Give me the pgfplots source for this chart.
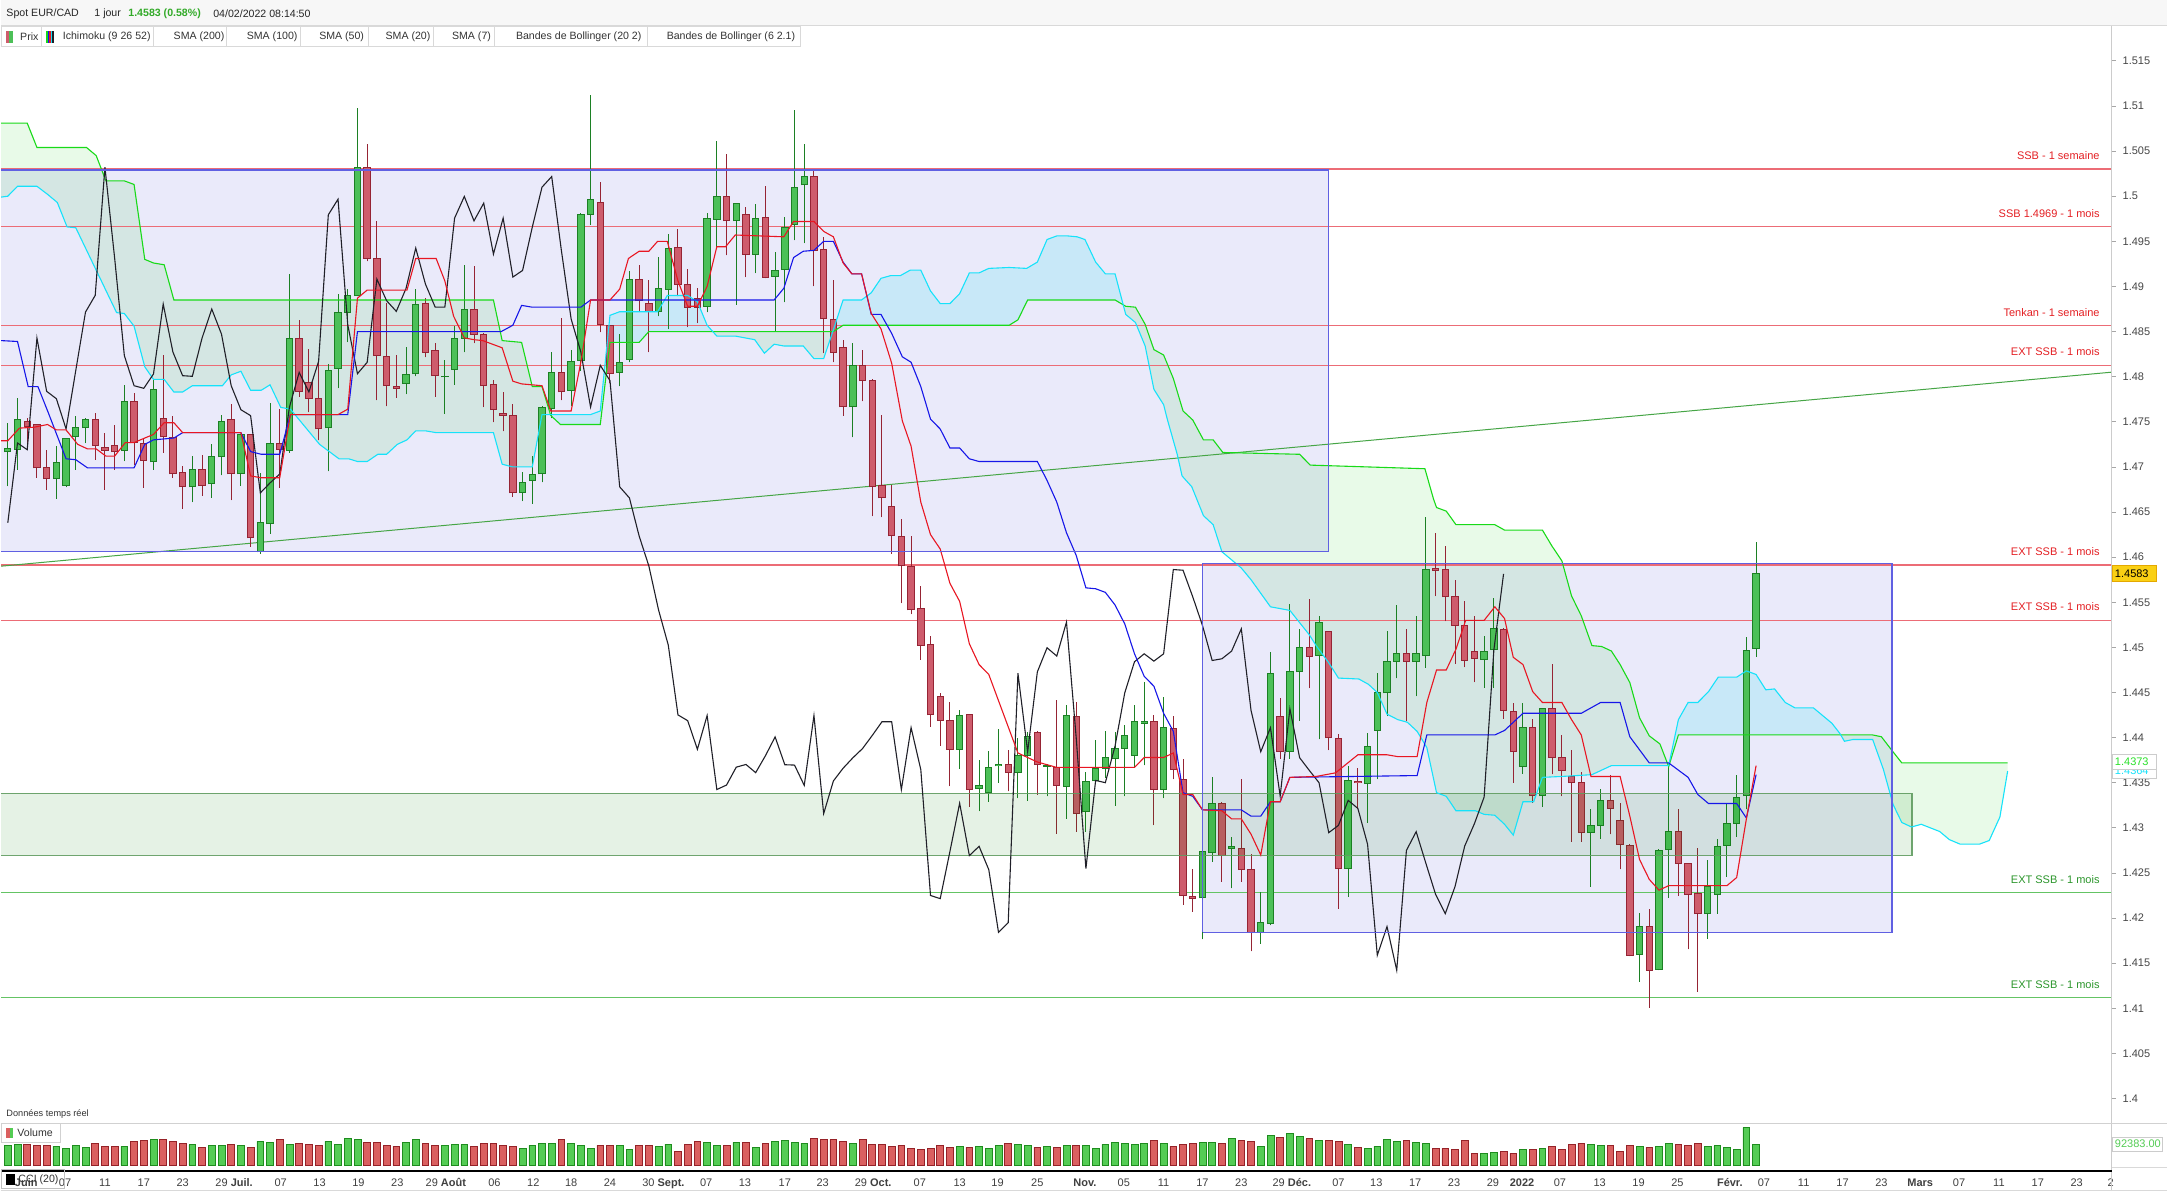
\documentclass[border=0pt]{standalone}
\usepackage{fontspec}
\setmainfont{Liberation Sans}
\usepackage{pgfplots}
\pgfplotsset{compat=1.18}
\usepackage{pgfplotstable}

\definecolor{cG}{RGB}{76,192,88}
\definecolor{cGd}{RGB}{28,128,36}
\definecolor{cR}{RGB}{206,92,108}
\definecolor{cRd}{RGB}{150,36,52}
\definecolor{vG}{RGB}{84,204,84}
\definecolor{vGd}{RGB}{30,140,30}
\definecolor{vR}{RGB}{218,96,96}
\definecolor{vRd}{RGB}{150,34,40}
\definecolor{tenk}{RGB}{232,22,34}
\definecolor{kij}{RGB}{22,22,232}
\definecolor{ssaC}{RGB}{22,226,250}
\definecolor{ssbC}{RGB}{24,218,24}
\definecolor{chik}{RGB}{32,32,40}
\definecolor{boxF}{RGB}{234,234,250}
\definecolor{boxL}{RGB}{96,96,226}
\definecolor{lvR}{RGB}{236,108,118}
\definecolor{lvG}{RGB}{100,196,100}
\definecolor{trG}{RGB}{70,165,70}
\definecolor{txR}{RGB}{228,32,36}
\definecolor{txG}{RGB}{44,150,44}
\definecolor{bandF}{RGB}{0,128,0}
\definecolor{bandL}{RGB}{96,156,96}
\definecolor{clG}{RGB}{0,200,0}
\definecolor{clB}{RGB}{0,224,240}
\definecolor{tickC}{RGB}{70,70,70}
\definecolor{yelF}{RGB}{250,208,20}
\definecolor{yelL}{RGB}{228,168,0}
\definecolor{titG}{RGB}{50,170,40}
\definecolor{lblG}{RGB}{40,225,40}

\newcommand{\tf}{\fontsize{5.5}{6.6}\selectfont}
\newcommand{\lf}{\fontsize{5.3}{6.3}\selectfont}
\newcommand{\sfnt}{\fontsize{4.6}{5.5}\selectfont}

\pgfplotsset{
  candlebar/.style 2 args={only marks, mark=*, mark size=0pt, mark options={draw=none, fill=none}, forget plot,
    error bars/.cd, y dir=plus, y explicit, error mark=none,
    error bar style={line width=#1, color=#2}},
}
\tikzset{lvlabel/.style={anchor=south east, inner sep=0pt, font=\tf, yshift=4.5pt}}

\pgfplotstableread{
i o h l c v
1 1.47166 1.47487 1.46786 1.47210 88.0
2 1.47191 1.47764 1.46970 1.47524 92.4
3 1.47505 1.47542 1.47191 1.47443 90.9
4 1.47469 1.47480 1.46878 1.46989 85.1
5 1.46989 1.47191 1.46749 1.46871 85.1
6 1.46871 1.47229 1.46646 1.47055 82.1
7 1.46797 1.47321 1.46775 1.47321 73.3
8 1.47339 1.47561 1.46970 1.47432 85.1
9 1.47432 1.47542 1.47265 1.47524 77.7
10 1.47531 1.47598 1.47081 1.47236 95.3
11 1.47221 1.47376 1.46749 1.47180 82.1
12 1.47236 1.47469 1.46970 1.47166 82.1
13 1.47180 1.47912 1.47063 1.47727 82.1
14 1.47727 1.47819 1.47026 1.47265 104.1
15 1.47265 1.47321 1.46767 1.47070 108.5
16 1.47055 1.47967 1.46970 1.47864 112.9
17 1.47542 1.48244 1.47155 1.47332 112.9
18 1.47332 1.47568 1.46878 1.46922 102.7
19 1.46944 1.47007 1.46535 1.46779 95.3
20 1.46779 1.47118 1.46609 1.46970 89.5
21 1.46970 1.47136 1.46682 1.46793 77.7
22 1.46812 1.47254 1.46657 1.47111 86.5
23 1.47111 1.47579 1.46907 1.47505 86.5
24 1.47524 1.47701 1.46631 1.46922 90.9
25 1.46922 1.47358 1.46793 1.47358 86.5
26 1.47358 1.47370 1.46114 1.46214 77.7
27 1.46059 1.46933 1.46040 1.46380 104.1
28 1.46369 1.47708 1.46262 1.47265 99.7
29 1.47265 1.47642 1.46767 1.47191 112.9
30 1.47180 1.49141 1.47155 1.48428 92.4
31 1.48428 1.48624 1.47775 1.47838 95.3
32 1.47941 1.48306 1.47605 1.47756 90.9
33 1.47764 1.48159 1.47295 1.47421 85.1
34 1.47432 1.48144 1.46952 1.48070 104.1
35 1.48089 1.48919 1.47874 1.48716 92.4
36 1.48716 1.48971 1.48384 1.48901 117.3
37 1.48897 1.50975 1.48890 1.50322 114.4
38 1.50322 1.50580 1.49277 1.49314 101.2
39 1.49314 1.49727 1.47738 1.48233 99.7
40 1.48225 1.48816 1.47671 1.47900 86.5
41 1.47893 1.48236 1.47764 1.47871 82.1
42 1.47923 1.48329 1.47808 1.48030 99.7
43 1.48030 1.48971 1.48004 1.48805 112.9
44 1.48816 1.48871 1.48214 1.48273 95.3
45 1.48292 1.48373 1.47775 1.48011 88.0
46 1.47996 1.48188 1.47590 1.48004 88.0
47 1.48078 1.48557 1.47912 1.48428 90.9
48 1.48428 1.49240 1.48270 1.48749 90.9
49 1.48742 1.49229 1.48373 1.48472 82.1
50 1.48472 1.48480 1.47664 1.47900 95.3
51 1.47919 1.47967 1.47494 1.47634 95.3
52 1.47598 1.47830 1.47395 1.47568 86.5
53 1.47572 1.47701 1.46668 1.46712 82.1
54 1.46712 1.46941 1.46620 1.46823 73.3
55 1.46849 1.47118 1.46590 1.46922 86.5
56 1.46922 1.47679 1.46830 1.47664 95.3
57 1.47642 1.48273 1.47542 1.48048 96.8
58 1.48048 1.48650 1.47738 1.47830 112.9
59 1.47845 1.48299 1.47671 1.48170 96.8
60 1.48177 1.49812 1.48067 1.49794 86.5
61 1.49801 1.51123 1.49683 1.49967 73.3
62 1.49930 1.50156 1.48491 1.48576 86.5
63 1.48568 1.48576 1.47930 1.48033 86.5
64 1.48048 1.48472 1.47893 1.48159 86.5
65 1.48188 1.49166 1.48159 1.49081 68.9
66 1.49081 1.49240 1.48724 1.48842 86.5
67 1.48816 1.49074 1.48270 1.48724 86.5
68 1.48724 1.49325 1.48668 1.48978 82.1
69 1.48971 1.49580 1.48528 1.49425 92.4
70 1.49432 1.49635 1.48890 1.49026 60.1
71 1.49026 1.49192 1.48550 1.48771 90.9
72 1.48871 1.48982 1.48594 1.48771 104.1
73 1.48779 1.49812 1.48712 1.49757 99.7
74 1.49746 1.50613 1.49425 1.49997 86.5
75 1.49997 1.50469 1.49344 1.49727 86.5
76 1.49727 1.49930 1.48797 1.49923 99.7
77 1.49801 1.49879 1.49104 1.49358 99.7
78 1.49358 1.49912 1.49148 1.49757 77.7
79 1.49764 1.50108 1.49090 1.49104 95.3
80 1.49111 1.49377 1.48502 1.49177 102.7
81 1.49185 1.49775 1.48823 1.49657 108.5
82 1.49683 1.50957 1.49510 1.50100 99.7
83 1.50126 1.50580 1.49480 1.50218 95.3
84 1.50218 1.50303 1.49000 1.49395 117.3
85 1.49414 1.49547 1.48262 1.48639 112.9
86 1.48639 1.49074 1.48159 1.48273 112.9
87 1.48329 1.48402 1.47568 1.47664 104.1
88 1.47664 1.48373 1.47328 1.48126 95.3
89 1.48122 1.48299 1.47727 1.47956 112.9
90 1.47956 1.47974 1.46454 1.46779 90.9
91 1.46797 1.47579 1.46443 1.46657 90.9
92 1.46559 1.46800 1.46037 1.46235 82.1
93 1.46235 1.46418 1.45492 1.45903 86.5
94 1.45892 1.46235 1.45370 1.45415 73.3
95 1.45427 1.45682 1.44863 1.45026 70.4
96 1.45038 1.45129 1.44119 1.44252 73.3
97 1.44455 1.44493 1.43909 1.44188 86.5
98 1.44188 1.44397 1.43463 1.43871 77.7
99 1.43871 1.44310 1.43654 1.44245 82.1
100 1.44252 1.44260 1.43234 1.43425 77.7
101 1.43436 1.43757 1.43185 1.43475 82.1
102 1.43394 1.43856 1.43292 1.43673 73.3
103 1.43688 1.44100 1.43501 1.43703 86.5
104 1.43700 1.43864 1.43406 1.43612 95.3
105 1.43612 1.43997 1.43330 1.43799 89.5
106 1.43799 1.44062 1.43303 1.44008 85.1
107 1.44062 1.44073 1.43368 1.43700 77.7
108 1.43684 1.43711 1.43349 1.43696 82.1
109 1.43673 1.44417 1.42937 1.43471 77.7
110 1.43456 1.44359 1.43101 1.44245 85.1
111 1.44237 1.44390 1.42960 1.43158 88.0
112 1.43177 1.43623 1.42960 1.43520 85.1
113 1.43520 1.43978 1.43482 1.43661 73.3
114 1.43661 1.44073 1.43558 1.43776 90.9
115 1.43768 1.44062 1.43246 1.43879 99.7
116 1.43883 1.44142 1.43349 1.44024 95.3
117 1.43806 1.44367 1.43673 1.44176 90.9
118 1.44161 1.44615 1.43692 1.44176 96.8
119 1.44176 1.44252 1.43032 1.43425 107.1
120 1.43425 1.44455 1.43330 1.44111 95.3
121 1.44100 1.44245 1.43539 1.43646 82.1
122 1.43532 1.43768 1.42148 1.42251 89.5
123 1.42235 1.42548 1.42071 1.42216 95.3
124 1.42224 1.42853 1.41766 1.42739 99.7
125 1.42727 1.43566 1.42624 1.43273 99.7
126 1.43273 1.43284 1.42403 1.42693 95.3
127 1.42769 1.42903 1.42331 1.42796 117.3
128 1.42777 1.43547 1.42403 1.42537 107.1
129 1.42537 1.42708 1.41633 1.41843 104.1
130 1.41843 1.42293 1.41717 1.41949 82.1
131 1.41938 1.44950 1.41919 1.44714 129.1
132 1.44237 1.44435 1.43768 1.43844 121.7
133 1.43844 1.45484 1.43768 1.44729 139.3
134 1.44729 1.45209 1.44188 1.44996 124.7
135 1.44996 1.45534 1.44550 1.44904 115.9
136 1.44911 1.45346 1.43981 1.45280 107.1
137 1.45173 1.45180 1.43862 1.43999 107.1
138 1.43988 1.44043 1.42105 1.42548 102.7
139 1.42548 1.43685 1.42238 1.43526 89.5
140 1.43519 1.43667 1.43205 1.43501 77.7
141 1.43490 1.44054 1.43058 1.43907 73.3
142 1.44080 1.44711 1.43538 1.44497 82.1
143 1.44497 1.45187 1.44239 1.44841 111.5
144 1.44848 1.45475 1.44656 1.44929 104.1
145 1.44929 1.45199 1.44183 1.44848 107.1
146 1.44841 1.45353 1.44460 1.44929 99.7
147 1.44911 1.46446 1.44774 1.45863 95.3
148 1.45870 1.46269 1.45568 1.45855 73.3
149 1.45863 1.46129 1.45291 1.45560 73.3
150 1.45560 1.45752 1.44818 1.45243 68.9
151 1.45243 1.45512 1.44781 1.44855 107.1
152 1.44951 1.45353 1.44615 1.44874 52.8
153 1.44866 1.45125 1.44553 1.44959 52.8
154 1.44977 1.45549 1.44553 1.45206 57.2
155 1.45199 1.45217 1.44209 1.44302 60.1
156 1.44287 1.44387 1.43501 1.43844 51.3
157 1.43678 1.44387 1.43600 1.44110 68.9
158 1.44110 1.44202 1.43279 1.43353 68.9
159 1.43353 1.44320 1.43235 1.44320 73.3
160 1.44320 1.44811 1.43593 1.43778 82.1
161 1.43778 1.44025 1.43353 1.43637 68.9
162 1.43574 1.43859 1.42844 1.43501 89.5
163 1.43501 1.43619 1.42844 1.42947 96.8
164 1.42947 1.43205 1.42349 1.43028 92.4
165 1.43028 1.43427 1.42881 1.43305 88.0
166 1.43305 1.43582 1.42929 1.43216 88.0
167 1.43084 1.43279 1.42541 1.42818 60.1
168 1.42807 1.42818 1.41580 1.41589 85.1
169 1.41600 1.42061 1.41297 1.41906 80.7
170 1.41906 1.42098 1.41009 1.41423 77.7
171 1.41434 1.42770 1.41423 1.42751 82.1
172 1.42762 1.43685 1.42227 1.42958 95.3
173 1.42965 1.43205 1.42246 1.42608 92.4
174 1.42604 1.42610 1.41655 1.42264 85.1
175 1.42272 1.42774 1.41187 1.42050 95.3
176 1.42050 1.42641 1.41773 1.42349 82.1
177 1.42264 1.42881 1.42050 1.42799 85.1
178 1.42807 1.43279 1.42456 1.43047 77.7
179 1.43050 1.43582 1.42903 1.43342 68.9
180 1.43353 1.45114 1.43205 1.44970 165.7
181 1.44984 1.46169 1.44896 1.45815 92.4
}\candles

\pgfplotstableread{
x y
0.31 1.4729
1.0 1.4729
2.2 1.4743
3.7 1.4744
5.1 1.4747
6.0 1.4741
7.0 1.4741
8.2 1.4725
9.2 1.4720
10.1 1.4720
11.1 1.4712
12.0 1.4712
13.1 1.4727
14.0 1.4727
15.1 1.4732
16.0 1.4736
17.1 1.4749
18.1 1.4749
19.0 1.4738
25.0 1.4738
26.0 1.4690
27.1 1.4688
29.0 1.4688
30.1 1.4758
35.0 1.4758
36.0 1.4764
37.0 1.4887
38.0 1.4896
42.1 1.4896
43.0 1.4931
45.1 1.4931
46.0 1.4906
46.9 1.4867
48.0 1.4843
49.0 1.4841
49.9 1.4840
51.9 1.4832
53.0 1.4795
53.9 1.4792
56.0 1.4790
56.9 1.4762
59.0 1.4762
60.0 1.4816
61.0 1.4885
63.0 1.4885
64.0 1.4897
64.9 1.4931
66.0 1.4939
67.0 1.4939
67.9 1.4950
68.9 1.4950
70.0 1.4906
71.0 1.4878
72.0 1.4878
73.0 1.4900
74.0 1.4944
74.9 1.4944
75.9 1.4957
80.9 1.4955
81.9 1.4972
84.0 1.4972
85.0 1.4961
86.0 1.4955
87.0 1.4926
87.9 1.4914
88.9 1.4914
89.9 1.4870
90.9 1.4853
92.0 1.4815
93.1 1.4751
94.0 1.4723
95.0 1.4661
96.0 1.4625
97.0 1.4609
98.0 1.4571
99.0 1.4551
100.0 1.4504
101.0 1.4481
102.0 1.4470
103.0 1.4441
104.0 1.4412
105.0 1.4383
106.0 1.4378
107.0 1.4373
109.0 1.4367
117.0 1.4367
118.0 1.4378
120.0 1.4378
121.0 1.4383
122.0 1.4337
123.0 1.4337
124.0 1.4320
126.0 1.4319
127.0 1.4310
128.0 1.4310
129.0 1.4293
130.0 1.4270
131.0 1.4329
132.0 1.4329
133.0 1.4356
135.7 1.4357
137.7 1.4361
140.0 1.4381
143.0 1.4381
144.1 1.4379
146.1 1.4379
147.1 1.4439
148.1 1.4475
149.1 1.4475
150.1 1.4498
151.1 1.4530
153.0 1.4530
154.1 1.4545
155.1 1.4532
156.0 1.4489
157.0 1.4481
158.0 1.4451
159.0 1.4439
161.0 1.4439
162.0 1.4420
163.0 1.4403
164.0 1.4357
167.0 1.4357
168.0 1.4313
169.0 1.4265
170.0 1.4243
171.0 1.4231
172.0 1.4236
178.0 1.4236
179.0 1.4245
180.0 1.4310
181.0 1.4369
}\tenkan

\pgfplotstableread{
x y
0.31 1.4840
2.0 1.4839
3.1 1.4789
4.1 1.4789
5.1 1.4762
7.0 1.4709
8.0 1.4708
9.2 1.4699
14.0 1.4699
15.1 1.4725
16.0 1.4730
18.1 1.4732
19.0 1.4738
25.0 1.4738
26.0 1.4717
27.1 1.4714
29.0 1.4714
30.1 1.4758
36.0 1.4758
37.0 1.4850
51.8 1.4850
53.0 1.4857
53.9 1.4879
55.0 1.4877
60.0 1.4877
61.0 1.4885
79.9 1.4885
80.9 1.4898
81.9 1.4932
82.9 1.4939
84.0 1.4940
85.0 1.4950
86.0 1.4950
87.0 1.4927
87.9 1.4914
88.9 1.4914
89.9 1.4869
90.9 1.4869
92.0 1.4848
93.1 1.4822
94.0 1.4816
95.0 1.4789
96.0 1.4753
97.0 1.4742
98.0 1.4721
99.0 1.4721
100.0 1.4709
101.0 1.4706
107.0 1.4706
108.0 1.4685
109.0 1.4661
110.0 1.4627
111.0 1.4602
112.0 1.4566
113.0 1.4565
114.0 1.4561
115.0 1.4547
116.0 1.4526
117.0 1.4493
118.0 1.4468
119.0 1.4457
120.0 1.4427
121.0 1.4407
122.0 1.4339
123.0 1.4335
124.0 1.4320
128.0 1.4320
129.0 1.4313
130.0 1.4313
131.0 1.4329
132.0 1.4329
133.0 1.4356
146.1 1.4358
147.1 1.4403
154.1 1.4403
155.1 1.4408
157.0 1.4427
163.0 1.4427
165.0 1.4439
167.0 1.4439
168.0 1.4401
170.0 1.4372
172.0 1.4372
173.0 1.4364
174.0 1.4356
175.0 1.4337
176.1 1.4327
179.0 1.4327
180.0 1.4311
181.0 1.4359
}\kijun

\pgfplotstableread{
x y
0.31 1.5081
3.0 1.5081
4.0 1.5054
9.1 1.5054
10.1 1.5045
11.1 1.5017
13.0 1.5017
14.0 1.5013
15.1 1.4930
16.0 1.4926
17.1 1.4924
18.1 1.4885
51.0 1.4885
51.9 1.4840
53.9 1.4838
55.0 1.4789
56.0 1.4789
56.9 1.4757
57.9 1.4747
62.0 1.4747
63.0 1.4838
66.0 1.4838
67.0 1.4850
86.0 1.4850
87.0 1.4857
104.1 1.4857
105.0 1.4863
106.0 1.4885
115.0 1.4885
116.1 1.4878
117.1 1.4877
118.1 1.4858
119.0 1.4830
120.0 1.4824
121.0 1.4798
122.0 1.4762
123.0 1.4752
124.1 1.4730
125.1 1.4730
126.1 1.4716
134.0 1.4714
135.1 1.4702
146.9 1.4698
147.8 1.4664
148.1 1.4655
149.1 1.4651
150.1 1.4636
154.1 1.4636
155.1 1.4630
159.0 1.4630
160.0 1.4612
161.0 1.4596
162.0 1.4557
163.0 1.4535
164.1 1.4502
165.1 1.4501
166.1 1.4496
167.0 1.4481
168.0 1.4461
169.0 1.4422
170.0 1.4402
171.1 1.4393
172.0 1.4368
173.0 1.4403
193.0 1.4403
193.9 1.4401
194.9 1.4387
196.0 1.4372
206.9 1.4372
}\ssb

\pgfplotstableread{
x y
0.31 1.4999
1.0 1.5000
2.0 1.5011
4.0 1.5011
5.1 1.5002
6.1 1.4993
7.1 1.4966
8.0 1.4965
12.2 1.4871
13.0 1.4870
14.0 1.4856
15.1 1.4811
16.0 1.4797
17.1 1.4797
18.1 1.4783
19.0 1.4783
20.0 1.4790
23.1 1.4790
24.0 1.4802
25.0 1.4806
26.0 1.4785
27.1 1.4785
28.0 1.4791
29.1 1.4766
30.1 1.4764
33.1 1.4725
34.1 1.4717
35.1 1.4709
36.1 1.4709
37.0 1.4706
38.0 1.4706
39.1 1.4714
40.0 1.4714
41.1 1.4725
42.1 1.4730
43.0 1.4740
44.0 1.4740
45.1 1.4738
51.0 1.4738
51.9 1.4703
53.0 1.4700
55.0 1.4700
56.0 1.4758
61.0 1.4758
62.0 1.4762
63.0 1.4868
64.0 1.4872
67.9 1.4872
68.9 1.4890
71.0 1.4890
72.0 1.4883
73.0 1.4857
74.0 1.4845
75.9 1.4845
77.9 1.4841
78.9 1.4826
79.9 1.4836
80.9 1.4834
82.9 1.4834
84.0 1.4820
85.0 1.4820
86.0 1.4852
87.0 1.4885
88.9 1.4885
89.9 1.4893
90.9 1.4909
91.9 1.4912
92.9 1.4912
93.9 1.4918
95.0 1.4918
96.0 1.4895
97.0 1.4881
98.0 1.4881
99.0 1.4892
100.0 1.4915
101.0 1.4915
102.0 1.4920
104.1 1.4921
105.9 1.4920
107.0 1.4927
108.0 1.4952
109.0 1.4956
110.1 1.4956
111.1 1.4955
111.9 1.4952
113.0 1.4927
114.0 1.4914
115.0 1.4914
116.1 1.4869
117.1 1.4860
118.1 1.4834
119.0 1.4786
120.0 1.4769
120.4 1.4752
121.4 1.4714
121.9 1.4690
122.9 1.4678
124.1 1.4646
125.1 1.4636
126.0 1.4606
128.0 1.4588
129.0 1.4575
131.0 1.4545
133.0 1.4541
135.0 1.4514
135.7 1.4502
137.0 1.4483
138.0 1.4466
140.1 1.4465
141.1 1.4459
142.0 1.4450
143.0 1.4426
144.1 1.4420
145.1 1.4417
146.1 1.4407
147.1 1.4389
148.1 1.4339
149.1 1.4335
150.1 1.4319
152.1 1.4319
153.0 1.4315
154.1 1.4314
155.1 1.4304
156.0 1.4292
157.0 1.4329
158.1 1.4329
159.0 1.4356
161.0 1.4357
164.1 1.4359
166.1 1.4369
172.0 1.4369
173.0 1.4420
174.0 1.4439
175.0 1.4439
176.1 1.4451
177.1 1.4467
179.0 1.4467
180.0 1.4474
181.0 1.4470
182.0 1.4453
182.9 1.4454
184.0 1.4439
185.0 1.4433
186.9 1.4433
188.8 1.4416
189.6 1.4405
190.1 1.4396
191.0 1.4398
193.0 1.4398
194.1 1.4365
195.1 1.4326
196.0 1.4306
197.0 1.4301
198.0 1.4304
199.9 1.4296
200.9 1.4287
202.0 1.4282
204.0 1.4282
205.0 1.4286
206.1 1.4312
206.9 1.4363
}\ssa

\begin{document}
\begin{tikzpicture}
\fill[white] (0,0) rectangle (1083.5pt,596pt);

\begin{axis}[
  at={(0pt,34pt)}, anchor=south west, scale only axis,
  width=1056pt, height=539pt,
  xmin=0.31, xmax=217.6, ymin=1.39728, ymax=1.51665,
  axis line style={draw=none},
  xtick=\empty,
  ytick={1.4,1.405,1.41,1.415,1.42,1.425,1.43,1.435,1.44,1.445,1.45,1.455,1.46,1.465,1.47,1.475,1.48,1.485,1.49,1.495,1.5,1.505,1.51,1.515},
  ytick pos=right, yticklabel pos=right,
  scaled y ticks=false,
  tick align=outside, major tick length=2pt,
  y tick style={draw=black!35, line width=0.4pt},
  yticklabel style={font=\tf, text=tickC, /pgf/number format/fixed, /pgf/number format/precision=3},
  /pgf/number format/assume math mode=true,
]
% boxes (background)
\addplot[draw=none, fill=boxF, forget plot] coordinates {(0.31,1.46066) (136.97,1.46066) (136.97,1.50289) (0.31,1.50289)};
\addplot[draw=none, fill=boxF, forget plot] coordinates {(124.02,1.41843) (194.98,1.41843) (194.98,1.4593) (124.02,1.4593)};

% cloud (area between SSA and SSB, green where SSB is on top, blue where SSA is on top)
\addplot[draw=none, fill=clG, fill opacity=0.09, forget plot] coordinates {
(0.31,1.5081) (3.0,1.5081) (4.0,1.5054) (9.1,1.5054) (10.1,1.5045) (11.1,1.5017) (13.0,1.5017) (14.0,1.5013) (15.1,1.4930) (16.0,1.4926) (17.1,1.4924) (18.1,1.4885) (51.0,1.4885) (51.9,1.4840) (53.9,1.4838) (55.0,1.4789) (56.0,1.4789) (56.87,1.4758)
(56.0,1.4758) (55.0,1.4700) (53.0,1.4700) (51.9,1.4703) (51.0,1.4738) (45.1,1.4738) (44.0,1.4740) (43.0,1.4740) (42.1,1.4730) (41.1,1.4725) (40.0,1.4714) (39.1,1.4714) (38.0,1.4706) (37.0,1.4706) (36.1,1.4709) (35.1,1.4709) (34.1,1.4717) (33.1,1.4725) (30.1,1.4764) (29.1,1.4766) (28.0,1.4791) (27.1,1.4785) (26.0,1.4785) (25.0,1.4806) (24.0,1.4802) (23.1,1.4790) (20.0,1.4790) (19.0,1.4783) (18.1,1.4783) (17.1,1.4797) (16.0,1.4797) (15.1,1.4811) (14.0,1.4856) (13.0,1.4870) (12.2,1.4871) (8.0,1.4965) (7.1,1.4966) (6.1,1.4993) (5.1,1.5002) (4.0,1.5011) (2.0,1.5011) (1.0,1.5000) (0.31,1.4999)};
\addplot[draw=none, fill=clB, fill opacity=0.145, forget plot] coordinates {
(56.87,1.4758) (61.0,1.4758) (62.0,1.4762) (63.0,1.4868) (64.0,1.4872) (67.9,1.4872) (68.9,1.4890) (71.0,1.4890) (72.0,1.4883) (73.0,1.4857) (73.58,1.4850)
(67.0,1.4850) (66.0,1.4838) (63.0,1.4838) (62.0,1.4747) (57.9,1.4747)};
\addplot[draw=none, fill=clG, fill opacity=0.09, forget plot] coordinates {
(73.58,1.4850) (85.94,1.4850) (85.0,1.4820) (84.0,1.4820) (82.9,1.4834) (80.9,1.4834) (79.9,1.4836) (78.9,1.4826) (77.9,1.4841) (75.9,1.4845) (74.0,1.4845)};
\addplot[draw=none, fill=clB, fill opacity=0.145, forget plot] coordinates {
(85.94,1.4850) (86.0,1.4852) (87.0,1.4885) (88.9,1.4885) (89.9,1.4893) (90.9,1.4909) (91.9,1.4912) (92.9,1.4912) (93.9,1.4918) (95.0,1.4918) (96.0,1.4895) (97.0,1.4881) (98.0,1.4881) (99.0,1.4892) (100.0,1.4915) (101.0,1.4915) (102.0,1.4920) (104.1,1.4921) (105.9,1.4920) (107.0,1.4927) (108.0,1.4952) (109.0,1.4956) (110.1,1.4956) (111.1,1.4955) (111.9,1.4952) (113.0,1.4927) (114.0,1.4914) (115.0,1.4914) (115.84,1.48797)
(115.0,1.4885) (106.0,1.4885) (105.0,1.4863) (104.1,1.4857) (87.0,1.4857) (86.0,1.4850)};
\addplot[draw=none, fill=clG, fill opacity=0.09, forget plot] coordinates {
(115.84,1.48797) (116.1,1.4878) (117.1,1.4877) (118.1,1.4858) (119.0,1.4830) (120.0,1.4824) (121.0,1.4798) (122.0,1.4762) (123.0,1.4752) (124.1,1.4730) (125.1,1.4730) (126.1,1.4716) (134.0,1.4714) (135.1,1.4702) (146.9,1.4698) (147.8,1.4664) (148.1,1.4655) (149.1,1.4651) (150.1,1.4636) (154.1,1.4636) (155.1,1.4630) (159.0,1.4630) (160.0,1.4612) (161.0,1.4596) (162.0,1.4557) (163.0,1.4535) (164.1,1.4502) (165.1,1.4501) (166.1,1.4496) (167.0,1.4481) (168.0,1.4461) (169.0,1.4422) (170.0,1.4402) (171.1,1.4393) (171.96,1.4369)
(166.1,1.4369) (164.1,1.4359) (161.0,1.4357) (159.0,1.4356) (158.1,1.4329) (157.0,1.4329) (156.0,1.4292) (155.1,1.4304) (154.1,1.4314) (153.0,1.4315) (152.1,1.4319) (150.1,1.4319) (149.1,1.4335) (148.1,1.4339) (147.1,1.4389) (146.1,1.4407) (145.1,1.4417) (144.1,1.4420) (143.0,1.4426) (142.0,1.4450) (141.1,1.4459) (140.1,1.4465) (138.0,1.4466) (137.0,1.4483) (135.7,1.4502) (135.0,1.4514) (133.0,1.4541) (131.0,1.4545) (129.0,1.4575) (128.0,1.4588) (126.0,1.4606) (125.1,1.4636) (124.1,1.4646) (122.9,1.4678) (121.9,1.4690) (121.4,1.4714) (120.4,1.4752) (120.0,1.4769) (119.0,1.4786) (118.1,1.4834) (117.1,1.4860) (116.1,1.4869)};
\addplot[draw=none, fill=clB, fill opacity=0.145, forget plot] coordinates {
(171.96,1.4369) (172.0,1.4369) (173.0,1.4420) (174.0,1.4439) (175.0,1.4439) (176.1,1.4451) (177.1,1.4467) (179.0,1.4467) (180.0,1.4474) (181.0,1.4470) (182.0,1.4453) (182.9,1.4454) (184.0,1.4439) (185.0,1.4433) (186.9,1.4433) (188.8,1.4416) (189.6,1.4405) (189.71,1.4403)
(173.0,1.4403) (172.0,1.4368)};
\addplot[draw=none, fill=clG, fill opacity=0.09, forget plot] coordinates {
(189.71,1.4403) (193.0,1.4403) (193.9,1.4401) (194.9,1.4387) (196.0,1.4372) (206.9,1.4372)
(206.9,1.4363) (206.1,1.4312) (205.0,1.4286) (204.0,1.4282) (202.0,1.4282) (200.9,1.4287) (199.9,1.4296) (198.0,1.4304) (197.0,1.4301) (196.0,1.4306) (195.1,1.4326) (194.1,1.4365) (193.0,1.4398) (191.0,1.4398) (190.1,1.4396)};

% level lines
\addplot[lvR, line width=0.8pt, forget plot] coordinates {(0.31,1.50303) (217.6,1.50303)};
\addplot[lvR, line width=0.8pt, forget plot] coordinates {(0.31,1.49664) (217.6,1.49664)};
\addplot[lvR, line width=0.8pt, forget plot] coordinates {(0.31,1.48565) (217.6,1.48565)};
\addplot[lvR, line width=0.8pt, forget plot] coordinates {(0.31,1.48125) (217.6,1.48125)};
\addplot[lvR, line width=0.8pt, forget plot] coordinates {(0.31,1.4591) (217.6,1.4591)};
\addplot[lvR, line width=0.8pt, forget plot] coordinates {(0.31,1.4530) (217.6,1.4530)};
\addplot[lvG, line width=0.6pt, forget plot] coordinates {(0.31,1.4228) (217.6,1.4228)};
\addplot[lvG, line width=0.6pt, forget plot] coordinates {(0.31,1.4112) (217.6,1.4112)};
\addplot[trG, line width=0.5pt, forget plot] coordinates {(0.31,1.4590) (217.6,1.4805)};

% candles: wicks
\addplot[restrict expr to domain={\thisrow{c}-\thisrow{o}}{0:1}, candlebar={0.5pt}{cGd}]
  table[x=i, y=l, y error expr={\thisrow{h}-\thisrow{l}}] {\candles};
\addplot[restrict expr to domain={\thisrow{c}-\thisrow{o}}{-1:-0.000001}, candlebar={0.5pt}{cRd}]
  table[x=i, y=l, y error expr={\thisrow{h}-\thisrow{l}}] {\candles};
% candles: bodies (border)
\addplot[restrict expr to domain={\thisrow{c}-\thisrow{o}}{0:1}, candlebar={3.7pt}{cGd}]
  table[x=i, y expr={min(\thisrow{o},\thisrow{c})-0.00005}, y error expr={abs(\thisrow{c}-\thisrow{o})+0.0001}] {\candles};
\addplot[restrict expr to domain={\thisrow{c}-\thisrow{o}}{-1:-0.000001}, candlebar={3.7pt}{cRd}]
  table[x=i, y expr={min(\thisrow{o},\thisrow{c})-0.00005}, y error expr={abs(\thisrow{c}-\thisrow{o})+0.0001}] {\candles};
% candles: bodies (fill)
\addplot[restrict expr to domain={\thisrow{c}-\thisrow{o}}{0:1}, candlebar={2.7pt}{cG}]
  table[x=i, y expr={min(\thisrow{o},\thisrow{c})+0.00006}, y error expr={max(abs(\thisrow{c}-\thisrow{o})-0.00012,0)}] {\candles};
\addplot[restrict expr to domain={\thisrow{c}-\thisrow{o}}{-1:-0.000001}, candlebar={2.7pt}{cR}]
  table[x=i, y expr={min(\thisrow{o},\thisrow{c})+0.00006}, y error expr={max(abs(\thisrow{c}-\thisrow{o})-0.00012,0)}] {\candles};

% green band
\addplot[draw=none, fill=bandF, fill opacity=0.1, forget plot] coordinates {(0.31,1.42696) (197.05,1.42696) (197.05,1.43383) (0.31,1.43383)};
\addplot[bandL, opacity=0.9, line width=0.8pt, forget plot] coordinates {(0.31,1.42696) (197.05,1.42696) (197.05,1.43383) (0.31,1.43383)};

% ichimoku lines
\addplot[ssbC, line width=0.55pt, forget plot] table {\ssb};
\addplot[ssaC, line width=0.55pt, forget plot] table {\ssa};
\addplot[chik, line width=0.55pt, forget plot, restrict x to domain=0.5:217] table[x expr=\thisrow{i}-26, y=c] {\candles};
\addplot[kij, line width=0.55pt, forget plot] table {\kijun};
\addplot[tenk, line width=0.55pt, forget plot] table {\tenkan};

% box borders
\addplot[boxL, line width=0.7pt, forget plot] coordinates {(0.31,1.46066) (136.97,1.46066) (136.97,1.50289) (0.31,1.50289)};
\addplot[boxL, line width=0.7pt, forget plot] coordinates {(124.02,1.41843) (194.98,1.41843) (194.98,1.4593) (124.02,1.4593) (124.02,1.41843)};

% level labels
\node[lvlabel, text=txR] at (axis cs:216.4,1.50303) {SSB - 1 semaine};
\node[lvlabel, text=txR] at (axis cs:216.4,1.49664) {SSB 1.4969 - 1 mois};
\node[lvlabel, text=txR] at (axis cs:216.4,1.48565) {Tenkan - 1 semaine};
\node[lvlabel, text=txR] at (axis cs:216.4,1.48125) {EXT SSB - 1 mois};
\node[lvlabel, text=txR] at (axis cs:216.4,1.4591) {EXT SSB - 1 mois};
\node[lvlabel, text=txR] at (axis cs:216.4,1.4530) {EXT SSB - 1 mois};
\node[lvlabel, text=txG] at (axis cs:216.4,1.4228) {EXT SSB - 1 mois};
\node[lvlabel, text=txG] at (axis cs:216.4,1.4112) {EXT SSB - 1 mois};

\coordinate (pA) at (axis cs:217.6,1.45815);
\coordinate (pB) at (axis cs:217.6,1.4373);
\coordinate (pC) at (axis cs:217.6,1.43634);
\end{axis}

% volume panel
\begin{axis}[
  at={(0pt,13pt)}, anchor=south west, scale only axis,
  width=1056pt, height=21pt,
  xmin=0.31, xmax=217.6, ymin=0, ymax=184.8,
  axis line style={draw=none}, ytick=\empty,
  xtick={2.9,6.9,11,15,19,24.3,29.1,33.1,37.1,41.1,46.1,51.1,55.1,59,63,68.5,72.9,76.9,81,84.9,90.1,94.9,99,102.9,107,111.9,115.9,120,124,128,133.2,138,141.9,145.9,149.9,153.9,156.9,160.8,164.9,168.9,172.9,178.3,181.8,185.9,189.9,193.9,197.9,201.9,206,210,214,217.5},
  xticklabels={\textbf{Juin},07,11,17,23,29 \textbf{Juil.},07,13,19,23,29 \textbf{Août},06,12,18,24,30 \textbf{Sept.},07,13,17,23,29 \textbf{Oct.},07,13,19,25,\textbf{Nov.},05,11,17,23,29 \textbf{Déc.},07,13,17,23,29,\textbf{2022},07,13,19,25,\textbf{Févr.},07,11,17,23,\textbf{Mars},07,11,17,23,2},
  major tick length=0pt,
  xticklabel style={font=\tf, text=black!75, anchor=base, yshift=-10.8pt, inner sep=0pt},
]
\addplot[ybar, bar width=3.4pt, bar shift=0pt, fill=vG, draw=vGd, line width=0.35pt,
  restrict expr to domain={\thisrow{c}-\thisrow{o}}{0:1}] table[x=i, y=v] {\candles};
\addplot[ybar, bar width=3.4pt, bar shift=0pt, fill=vR, draw=vRd, line width=0.35pt,
  restrict expr to domain={\thisrow{c}-\thisrow{o}}{-1:-0.000001}] table[x=i, y=v] {\candles};
\coordinate (pV) at (axis cs:217.6,92.4);
\end{axis}

% frame decorations
\draw[black!20, line width=0.5pt] (1056pt,0) -- (1056pt,583pt);
\draw[black!18, line width=0.5pt] (0,34pt) -- (1083.5pt,34pt);
\draw[black!15, line width=0.5pt] (0,0.4pt) -- (1083.5pt,0.4pt);
\draw[black!15, line width=0.5pt] (1056pt,12pt) -- (1083.5pt,12pt);
\draw[black, line width=1.1pt] (0,10pt) -- (1056pt,10pt);

% right value boxes
\node[fill=yelF, draw=yelL, line width=0.4pt, anchor=west, inner sep=1.1pt, minimum height=8pt, text width=19.8pt, font=\tf, text=black] at ([xshift=0.4pt]pA) {1.4583};
\node[fill=white, draw=black!20, line width=0.4pt, anchor=west, inner sep=1.1pt, minimum height=7.5pt, text width=19.8pt, font=\tf, text=ssaC] at ([xshift=0.4pt]pC) {1.4364};
\node[fill=white, draw=black!20, line width=0.4pt, anchor=west, inner sep=1.1pt, minimum height=7.5pt, text width=19.8pt, font=\tf, text=lblG] at ([xshift=0.4pt]pB) {1.4373};
\node[fill=white, draw=black!20, line width=0.4pt, anchor=west, inner sep=1.1pt, minimum height=7pt, text width=22.5pt, font=\tf, text=vG] at ([xshift=0.4pt]pV) {92383.00};

% data notes
\node[anchor=west, inner sep=0pt, font=\sfnt, text=black!80] at (2.5pt,38.5pt) {Données temps réel};
\draw[black!18, fill=white, line width=0.4pt] (0,24.5pt) rectangle (29.5pt,34pt);
\fill[vR] (2.5pt,26.8pt) rectangle (4.3pt,31.8pt);
\fill[vG] (4.3pt,26.8pt) rectangle (6.1pt,31.8pt);
\node[anchor=west, inner sep=0pt, font=\lf, text=black!80] at (8pt,29.3pt) {Volume};
\draw[black!25, line width=0.4pt] (0.3pt,1.2pt) rectangle (31.5pt,11pt);
\fill[black] (2.5pt,3pt) rectangle (6.8pt,8.6pt);
\node[anchor=west, inner sep=0pt, font=\lf, text=black!80] at (8.5pt,5.8pt) {CCI (20)};

% title band
\fill[black!3] (0,583pt) rectangle (1083.5pt,596pt);
\draw[black!15, line width=0.5pt] (0,583pt) -- (1083.5pt,583pt);
\node[anchor=west, inner sep=0pt, font=\lf, text=black!85] at (2.5pt,589.3pt) {Spot EUR/CAD};
\node[anchor=west, inner sep=0pt, font=\lf, text=black!85] at (46.5pt,589.3pt) {1 jour};
\node[anchor=west, inner sep=0pt, font=\lf, text=titG] at (63.5pt,589.3pt) {\textbf{1.4583 (0.58\%)}};
\node[anchor=west, inner sep=0pt, font=\lf, text=black!85] at (106pt,589.3pt) {04/02/2022 08:14:50};

% legend row
\draw[black!15, fill=white, line width=0.5pt] (0,572.7pt) rectangle (400.1pt,582.6pt);
\foreach \xx in {20.4,76.35,112.95,149.6,183.6,216.55,247.1,323.2}{
  \draw[black!15, line width=0.5pt] (\xx pt,572.7pt) -- (\xx pt,582.6pt);
}
\fill[cR] (2.5pt,574.6pt) rectangle (4.2pt,580.6pt);
\fill[cG] (4.2pt,574.6pt) rectangle (5.9pt,580.6pt);
\fill[ssbC] (22.5pt,574.6pt) rectangle (23.3pt,580.6pt);
\fill[kij] (23.3pt,574.6pt) rectangle (24.1pt,580.6pt);
\fill[tenk] (24.1pt,574.6pt) rectangle (24.9pt,580.6pt);
\fill[ssaC] (24.9pt,574.6pt) rectangle (25.7pt,580.6pt);
\fill[chik] (25.7pt,574.6pt) rectangle (26.3pt,580.6pt);
\node[anchor=east, inner sep=0pt, font=\lf, text=black!80] at (18.9pt,577.6pt) {Prix};
\node[anchor=east, inner sep=0pt, font=\lf, text=black!80] at (75pt,577.6pt) {Ichimoku (9 26 52)};
\node[anchor=east, inner sep=0pt, font=\lf, text=black!80] at (111.9pt,577.6pt) {SMA (200)};
\node[anchor=east, inner sep=0pt, font=\lf, text=black!80] at (148.5pt,577.6pt) {SMA (100)};
\node[anchor=east, inner sep=0pt, font=\lf, text=black!80] at (181.8pt,577.6pt) {SMA (50)};
\node[anchor=east, inner sep=0pt, font=\lf, text=black!80] at (215pt,577.6pt) {SMA (20)};
\node[anchor=east, inner sep=0pt, font=\lf, text=black!80] at (245.3pt,577.6pt) {SMA (7)};
\node[anchor=east, inner sep=0pt, font=\lf, text=black!80] at (320.6pt,577.6pt) {Bandes de Bollinger (20 2)};
\node[anchor=east, inner sep=0pt, font=\lf, text=black!80] at (397.5pt,577.6pt) {Bandes de Bollinger (6 2.1)};
\end{tikzpicture}
\end{document}
